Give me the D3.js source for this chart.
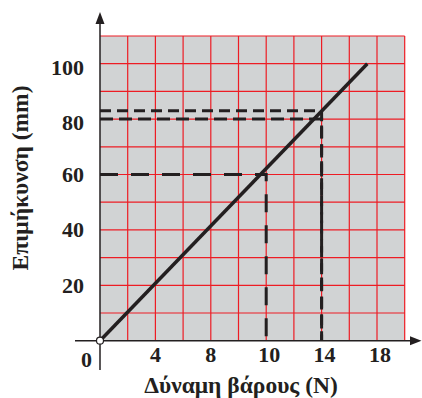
<html>
<head>
  <script src="https://cdn.jsdelivr.net/npm/d3@7"></script>
</head>
<style>
  body { margin: 0; background: #fff; }
  text { font-family: "Liberation Serif", "Times New Roman", serif; font-weight: bold; fill: #231f20; }
</style>
<body>
  <svg id="chart"></svg>
  <script type="text/javascript">
    // axis labels as printed in the figure (note 8 -> 10 spans one cell pair)
    var xTickValues = [4, 8, 10, 14, 18];
    var yTickValues = [20, 40, 60, 80, 100];
    // straight line of the graph
    var lineData = [{f: 0, l: 0}, {f: 17.3, l: 100}];
    // dashed reading lines: [force, elongation]
    var readings = [
      {f: 10, l: 60, dash: '18,13'},
      {f: 14, l: 80, dash: '13,6'},
      {f: 14, l: 83, dash: '11,6'}
    ];
    var xTitle = 'Δύναμη βάρους (N)';
    var yTitle = 'Επιμήκυνση (mm)';

    var svg = d3.select('#chart')
      .attr('width', 422)
      .attr('height', 398);

    var cell = 27.7, x0 = 100, y0 = 340.7;
    // printed scale is piecewise: 0..8 over 4 cells, 8..10 over 2 cells, 10..18 over 4 cells
    var x = d3.scaleLinear()
      .domain([0, 8, 10, 18])
      .range([x0, x0 + 4 * cell, x0 + 6 * cell, x0 + 10 * cell]);
    var y = d3.scaleLinear()
      .domain([0, 110])
      .range([y0, y0 - 11 * cell]);
    var col = d3.scaleLinear().domain([0, 11]).range([x0, x0 + 11 * cell]);

    // plot background
    svg.append('rect')
      .attr('x', col(0))
      .attr('y', y(110))
      .attr('width', col(11) - col(0))
      .attr('height', y(0) - y(110))
      .attr('fill', '#d1d3d4');

    // grid
    svg.append('g').selectAll('line')
      .data(d3.range(1, 12))
      .enter()
      .append('line')
      .attr('x1', function (d) { return col(d); })
      .attr('x2', function (d) { return col(d); })
      .attr('y1', y(0))
      .attr('y2', y(110))
      .attr('stroke', '#ed1c24')
      .attr('stroke-width', 1.2);
    svg.append('g').selectAll('line')
      .data(d3.range(1, 12))
      .enter()
      .append('line')
      .attr('x1', col(0))
      .attr('x2', col(11))
      .attr('y1', function (d) { return y(d * 10); })
      .attr('y2', function (d) { return y(d * 10); })
      .attr('stroke', '#ed1c24')
      .attr('stroke-width', 1.2);

    // dashed reading lines
    readings.forEach(function (r) {
      svg.append('path')
        .attr('d', d3.line()([[x(0), y(r.l)], [x(r.f), y(r.l)], [x(r.f), y(0)]]))
        .attr('fill', 'none')
        .attr('stroke', '#231f20')
        .attr('stroke-width', 3)
        .attr('stroke-dasharray', r.dash);
    });

    // main line
    svg.append('path')
      .attr('d', d3.line()
        .x(function (d) { return x(d.f); })
        .y(function (d) { return y(d.l); })(lineData))
      .attr('fill', 'none')
      .attr('stroke', '#231f20')
      .attr('stroke-width', 3.5);

    // axes with arrows
    svg.append('line')
      .attr('x1', 75).attr('x2', 413)
      .attr('y1', y(0)).attr('y2', y(0))
      .attr('stroke', '#231f20').attr('stroke-width', 1.5);
    svg.append('path')
      .attr('d', 'M421.5,' + y(0) + 'L410,' + (y(0) - 4.5) + 'L410,' + (y(0) + 4.5) + 'Z')
      .attr('fill', '#231f20');
    svg.append('line')
      .attr('x1', x(0)).attr('x2', x(0))
      .attr('y1', 370).attr('y2', 20)
      .attr('stroke', '#231f20').attr('stroke-width', 1.5);
    svg.append('path')
      .attr('d', 'M' + x(0) + ',12L' + (x(0) - 4.5) + ',24L' + (x(0) + 4.5) + ',24Z')
      .attr('fill', '#231f20');

    // origin marker
    svg.append('circle')
      .attr('cx', x(0))
      .attr('cy', y(0))
      .attr('r', 3.5)
      .attr('fill', '#fff')
      .attr('stroke', '#231f20')
      .attr('stroke-width', 1.2);

    // tick labels
    svg.append('g').selectAll('text')
      .data(xTickValues)
      .enter()
      .append('text')
      .attr('x', function (d) { return x(d) + (d >= 10 ? 3 : 0); })
      .attr('y', 362)
      .attr('text-anchor', 'middle')
      .attr('font-size', 22)
      .text(function (d) { return d; });
    svg.append('text')
      .attr('x', 86.5)
      .attr('y', 367)
      .attr('text-anchor', 'middle')
      .attr('font-size', 22)
      .text('0');
    svg.append('g').selectAll('text')
      .data(yTickValues)
      .enter()
      .append('text')
      .attr('x', 84)
      .attr('y', function (d) { return y(d) + (d >= 80 ? 11 : 7.5); })
      .attr('text-anchor', 'end')
      .attr('font-size', 22)
      .text(function (d) { return d; });

    // axis titles
    svg.append('text')
      .attr('x', 241)
      .attr('y', 393)
      .attr('text-anchor', 'middle')
      .attr('font-size', 23.5)
      .text(xTitle);
    svg.append('text')
      .attr('transform', 'translate(28,178) rotate(-90)')
      .attr('text-anchor', 'middle')
      .attr('font-size', 23.5)
      .text(yTitle);
  </script>
</body>
</html>
